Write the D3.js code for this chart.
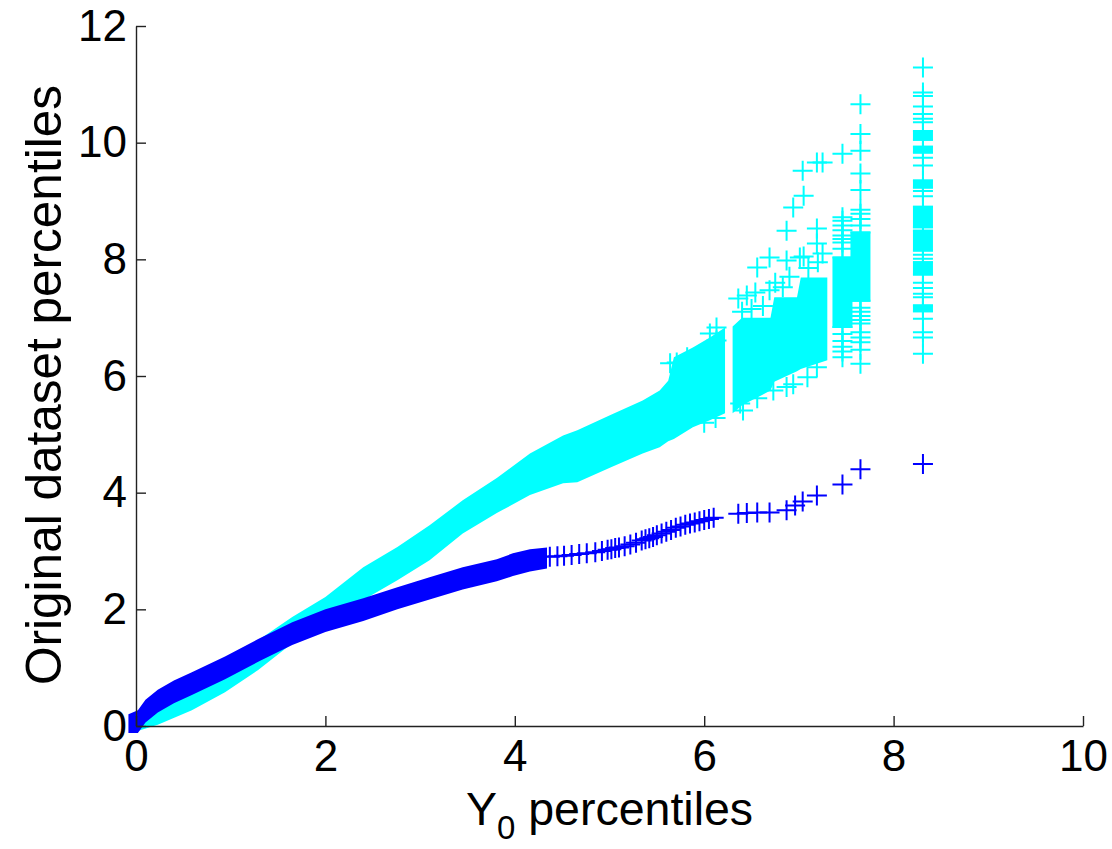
<!DOCTYPE html>
<html>
<head>
<meta charset="utf-8">
<script src="https://cdn.jsdelivr.net/npm/d3@7"></script>
<style>
  body { margin: 0; background: #fff; }
  text { font-family: "Liberation Sans", Arial, sans-serif; fill: #000; }
</style>
</head>
<body>
<svg id="chart" width="1112" height="849"></svg>
<script>
// tick values
var xTicks = [0, 2, 4, 6, 8, 10];
var yTicks = [0, 2, 4, 6, 8, 10, 12];

// blue series: dense part (visual extent of the cloud) then single markers
var blueBandX  = [-0.08, 0.02, 0.10, 0.23, 0.40, 0.59, 0.94, 1.29, 1.65, 2.00, 2.40, 2.76, 3.10, 3.45, 3.81, 3.98, 4.16, 4.34];
var blueBandLo = [-0.12, -0.12, 0.06, 0.23, 0.39, 0.53, 0.80, 1.10, 1.39, 1.61, 1.80, 2.00, 2.17, 2.34, 2.48, 2.57, 2.65, 2.70];
var blueBandHi = [0.20, 0.27, 0.45, 0.62, 0.78, 0.92, 1.19, 1.49, 1.78, 2.00, 2.19, 2.38, 2.55, 2.72, 2.86, 2.96, 3.03, 3.06];
var blueTailX = [4.37, 4.45, 4.52, 4.60, 4.68, 4.76, 4.85, 4.92, 4.98, 5.02, 5.06, 5.10, 5.16, 5.22, 5.28, 5.34, 5.38, 5.42, 5.46, 5.50, 5.55, 5.60, 5.65, 5.70, 5.75, 5.80, 5.85, 5.90, 5.95, 6.00, 6.05, 6.10, 6.36, 6.45, 6.56, 6.69, 6.87, 6.96, 7.04, 7.19, 7.46, 7.65, 8.31];
var blueTailY = [2.90, 2.91, 2.92, 2.93, 2.95, 2.96, 2.98, 3.00, 3.02, 3.03, 3.05, 3.06, 3.08, 3.11, 3.14, 3.18, 3.20, 3.22, 3.24, 3.27, 3.30, 3.33, 3.36, 3.40, 3.42, 3.45, 3.47, 3.49, 3.51, 3.53, 3.55, 3.57, 3.64, 3.65, 3.66, 3.66, 3.70, 3.78, 3.85, 3.95, 4.14, 4.40, 4.49];

// cyan series: main cloud, second cloud, columns and single markers
var cyanBandX  = [-0.05, 0.23, 0.59, 0.94, 1.29, 1.65, 2.00, 2.40, 2.76, 3.10, 3.45, 3.81, 4.16, 4.51, 4.66, 5.01, 5.35, 5.53, 5.62, 5.68, 5.88, 6.06, 6.22];
var cyanBandLo = [-0.12, 0.02, 0.27, 0.58, 0.96, 1.42, 1.75, 2.16, 2.50, 2.84, 3.30, 3.65, 3.96, 4.16, 4.18, 4.43, 4.67, 4.78, 4.88, 4.92, 5.12, 5.24, 5.36];
var cyanBandHi = [0.15, 0.50, 0.80, 1.12, 1.47, 1.87, 2.21, 2.72, 3.07, 3.44, 3.87, 4.25, 4.67, 4.98, 5.07, 5.33, 5.58, 5.75, 5.92, 6.32, 6.49, 6.66, 6.83];
var cyanBlockX  = [6.30, 6.40, 6.70, 6.74, 6.98, 7.02, 7.30];
var cyanBlockLo = [5.36, 5.50, 5.75, 5.90, 6.08, 6.12, 6.27];
var cyanBlockHi = [6.85, 7.00, 7.00, 7.35, 7.35, 7.69, 7.69];
var cyanDotX = [5.64, 5.71, 5.82, 6.06, 6.13, 6.13, 6.00, 6.12, 6.36, 6.45, 6.54, 6.69, 6.83, 6.40, 6.50, 6.62, 6.75, 6.90, 7.10, 7.20, 7.25, 6.56, 6.69, 6.87, 7.01, 7.05, 6.87, 6.94, 7.05, 7.04, 7.19, 7.25, 7.19, 7.19, 6.38, 6.41, 6.56, 6.73, 6.87, 6.94, 7.09, 7.19];
var cyanDotY = [6.22, 6.23, 6.32, 6.73, 6.61, 6.83, 5.20, 5.28, 7.33, 7.38, 7.43, 7.47, 7.52, 7.10, 7.15, 7.20, 7.60, 7.70, 7.85, 7.95, 8.10, 7.86, 8.03, 7.98, 8.03, 8.05, 8.49, 8.89, 9.09, 9.52, 9.66, 9.66, 8.53, 8.27, 5.53, 5.41, 5.62, 5.75, 5.81, 5.86, 5.98, 6.15];
var cyanColX = [7.46, 7.65, 8.31];
var cyanColY = [
  [9.81, 8.72, 8.66, 8.58, 8.50, 8.41, 8.35, 8.29, 8.18, 6.72, 6.60, 6.50, 6.42, 6.32],
  [10.66, 10.15, 9.86, 9.47, 9.19, 8.85, 8.78, 8.69, 8.58, 7.17, 7.10, 7.03, 6.96, 6.90, 6.75, 6.66, 6.58, 6.45, 6.21],
  [11.29, 10.86, 10.80, 10.62, 10.49, 10.41, 10.35, 9.74, 9.61, 9.17, 9.08, 8.08, 8.01, 7.60, 7.51, 7.41, 7.35, 6.98, 6.75, 6.66, 6.38]
];
var cyanColBlocks = [
  [[6.84, 8.03]],
  [[7.29, 8.46]],
  [[10.05, 10.20], [9.83, 9.93], [9.23, 9.35], [8.55, 8.90], [8.15, 8.49], [7.74, 7.95], [7.11, 7.21]]
];

var blue = "#0000ff", cyan = "#00ffff";
var arm = 10;

var svg = d3.select("#chart");
var x = d3.scaleLinear().domain([0, 10]).range([136, 1083]);
var y = d3.scaleLinear().domain([0, 12]).range([726, 26]);

var area = d3.area()
	.x(function(d) { return x(d[0]); })
	.y0(function(d) { return y(d[1]); })
	.y1(function(d) { return y(d[2]); });

var plusPath = "M" + (-arm) + ",0H" + arm + "M0," + (-arm) + "V" + arm;

function drawPlus(g, xs, ys, color)
{
	g.selectAll(null)
		.data(d3.zip(xs, ys))
		.enter()
		.append("path")
		.attr("d", plusPath)
		.attr("transform", function(d) { return "translate(" + x(d[0]) + "," + y(d[1]) + ")"; })
		.attr("fill", "none")
		.attr("stroke", color)
		.attr("stroke-width", 2);
}

// cyan first, blue on top
var gc = svg.append("g");
gc.append("path")
	.datum(d3.zip(cyanBandX, cyanBandLo, cyanBandHi))
	.attr("d", area)
	.attr("fill", cyan);
gc.append("path")
	.datum(d3.zip(cyanBlockX, cyanBlockLo, cyanBlockHi))
	.attr("d", area)
	.attr("fill", cyan);
drawPlus(gc, cyanDotX, cyanDotY, cyan);

cyanColX.forEach(function(cx, i)
{
	cyanColBlocks[i].forEach(function(b)
	{
		gc.append("rect")
			.attr("x", x(cx) - arm)
			.attr("width", arm * 2)
			.attr("y", y(b[1]) - 1)
			.attr("height", y(b[0]) - y(b[1]) + 2)
			.attr("fill", cyan);
		drawPlus(gc, [cx, cx], b, cyan);
	});
	drawPlus(gc, cyanColY[i].map(function() { return cx; }), cyanColY[i], cyan);
});

var gb = svg.append("g");
gb.append("path")
	.datum(d3.zip(blueBandX, blueBandLo, blueBandHi))
	.attr("d", area)
	.attr("fill", blue);
drawPlus(gb, blueTailX, blueTailY, blue);

// axes, MATLAB style: ticks inward, no box
var xAxis = svg.append("g")
	.attr("transform", "translate(0," + y(0) + ")")
	.call(d3.axisBottom(x).tickValues(xTicks).tickSizeInner(-10).tickSizeOuter(0).tickPadding(14));
var yAxis = svg.append("g")
	.attr("transform", "translate(" + x(0) + ",0)")
	.call(d3.axisLeft(y).tickValues(yTicks).tickSizeInner(-10).tickSizeOuter(0).tickPadding(9));

svg.selectAll(".domain, .tick line")
	.attr("stroke", "#222")
	.attr("stroke-width", 1.4);
svg.selectAll(".tick text")
	.attr("font-family", "Liberation Sans, Arial, sans-serif")
	.attr("font-size", 44)
	.attr("fill", "#000");

svg.append("text")
	.attr("transform", "translate(61," + ((y(0) + y(12)) / 2 + 9) + ") rotate(-90)")
	.attr("text-anchor", "middle")
	.attr("font-size", 49.5)
	.text("Original dataset percentiles");

var xl = svg.append("text")
	.attr("x", (x(0) + x(10)) / 2)
	.attr("y", 825)
	.attr("text-anchor", "middle")
	.attr("font-size", 46.5);
xl.append("tspan").text("Y");
xl.append("tspan").attr("font-size", 33).attr("dy", 14).text("0");
xl.append("tspan").attr("dy", -14).text(" percentiles");
</script>
</body>
</html>
